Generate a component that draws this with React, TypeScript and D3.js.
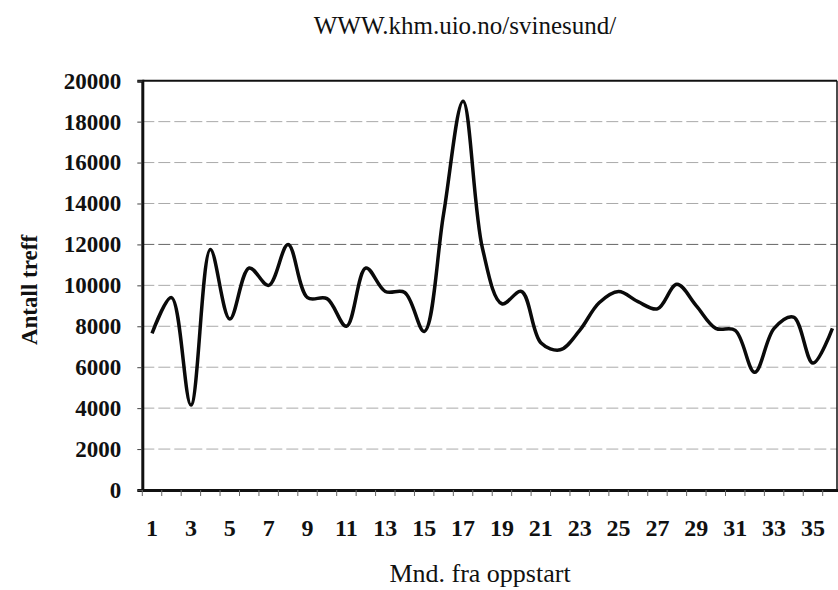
import { useEffect, useRef } from 'react';
import * as d3 from 'd3';

// months since launch
const months = d3.range(1, 37);
// hits per month
const hits = [
  7650, 9400, 4150, 11750, 8350, 10850, 10000, 12000, 9400, 9350,
  8000, 10850, 9700, 9650, 7750, 13500, 19000, 11800, 9100, 9700,
  7200, 6850, 7800, 9150, 9700, 9200, 8850, 10050, 9000, 7900,
  7800, 5750, 7900, 8450, 6200, 7900,
];
const yTicks = d3.range(0, 20001, 2000);
const xLabels = months.filter(m => m % 2 === 1);

const FONT = "'Liberation Serif', 'DejaVu Serif', Times, serif";

const App = () => {
  const svgRef = useRef(null);

  useEffect(() => {
    const svg = d3.select(svgRef.current);
    svg.selectAll('*').remove();

    const left = 142.3, top = 80.7, bottom = 490, right = 837;

    const x = d3.scaleBand()
      .domain(months.map(String))
      .range([left, left + 36 * 19.44])
      .padding(0);

    const y = d3.scaleLinear()
      .domain([0, 20000])
      .range([bottom, top]);

    // gridlines
    svg.append('g')
      .selectAll('line')
      .data(yTicks.filter(t => t > 0 && t < 20000))
      .enter()
      .append('line')
      .attr('x1', left)
      .attr('x2', right)
      .attr('y1', d => y(d))
      .attr('y2', d => y(d))
      .attr('stroke', d => d === 12000 ? '#666' : '#aaa')
      .attr('stroke-width', 1)
      .attr('stroke-dasharray', '12 4');

    // box: top and right thin, left and bottom thick
    svg.append('line')
      .attr('x1', left).attr('x2', right).attr('y1', top).attr('y2', top)
      .attr('stroke', '#111').attr('stroke-width', 2);
    svg.append('line')
      .attr('x1', right).attr('x2', right).attr('y1', top).attr('y2', bottom)
      .attr('stroke', '#111').attr('stroke-width', 1.5);

    // y axis
    const yAxis = svg.append('g')
      .attr('transform', `translate(${left},0)`)
      .call(d3.axisLeft(y).tickValues(yTicks).tickSize(5).tickPadding(16).tickFormat(d3.format('d')));
    yAxis.attr('font-family', FONT).attr('font-size', 23);
    yAxis.select('.domain').attr('stroke', '#111').attr('stroke-width', 3);
    yAxis.selectAll('.tick line').attr('stroke', '#444');
    yAxis.selectAll('.tick text')
      .attr('font-family', FONT)
      .attr('font-size', 23)
      .attr('font-weight', 'bold')
      .attr('fill', '#111');

    // x axis: minor ticks at each category edge, labels on odd months
    const xAxis = svg.append('g')
      .attr('transform', `translate(0,${bottom})`)
      .call(d3.axisBottom(x).tickValues([]).tickSizeOuter(0));
    xAxis.select('.domain').attr('stroke', '#111').attr('stroke-width', 3);

    svg.append('g')
      .selectAll('line')
      .data(months)
      .enter()
      .append('line')
      .attr('x1', d => x(String(d)))
      .attr('x2', d => x(String(d)))
      .attr('y1', bottom)
      .attr('y2', bottom + 6)
      .attr('stroke', '#666')
      .attr('stroke-width', 1);

    svg.append('g')
      .selectAll('text')
      .data(xLabels)
      .enter()
      .append('text')
      .attr('x', d => x(String(d)) + x.bandwidth() / 2)
      .attr('y', 536)
      .attr('text-anchor', 'middle')
      .attr('font-family', FONT)
      .attr('font-size', 24)
      .attr('font-weight', 'bold')
      .attr('fill', '#111')
      .text(d => d);

    // smoothed line
    const line = d3.line()
      .x((d, i) => x(String(months[i])) + x.bandwidth() / 2)
      .y(d => y(d))
      .curve(d3.curveCatmullRom.alpha(0.5));

    svg.append('path')
      .datum(hits)
      .attr('d', line)
      .attr('fill', 'none')
      .attr('stroke', '#0a0a0a')
      .attr('stroke-width', 3.5)
      .attr('stroke-linejoin', 'round');

    // titles
    svg.append('text')
      .attr('x', 465)
      .attr('y', 34)
      .attr('text-anchor', 'middle')
      .attr('font-family', FONT)
      .attr('font-size', 25)
      .attr('fill', '#111')
      .text('WWW.khm.uio.no/svinesund/');

    svg.append('text')
      .attr('transform', 'translate(37,290) rotate(-90)')
      .attr('text-anchor', 'middle')
      .attr('font-family', FONT)
      .attr('font-size', 23)
      .attr('font-weight', 'bold')
      .attr('fill', '#111')
      .text('Antall treff');

    svg.append('text')
      .attr('x', 480)
      .attr('y', 582)
      .attr('text-anchor', 'middle')
      .attr('font-family', FONT)
      .attr('font-size', 26)
      .attr('fill', '#111')
      .text('Mnd. fra oppstart');
  }, []);

  return (
    <svg
      ref={svgRef}
      width={838}
      height={590}
      style={{ position: 'absolute', left: 0, top: 0, background: '#fff' }}
    />
  );
};

export default App;
